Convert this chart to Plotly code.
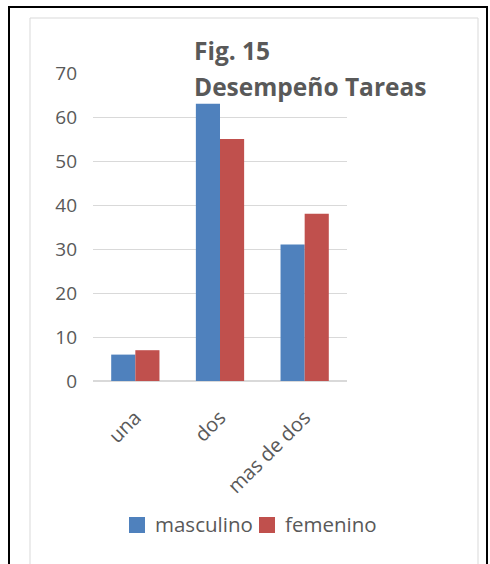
import plotly.graph_objects as go

categories = ["una", "dos", "mas de dos"]
series_names = ["masculino", "femenino"]
masculino = [6, 63, 31]
femenino = [7, 55, 38]
y_ticks = [0, 10, 20, 30, 40, 50, 60, 70]
colors = ["#4F81BD", "#C0504D"]

W, H = 490, 564
L, R, T, B = 93, 347, 73, 381  # plot area in px

def px(x):
    return (x - L) / (R - L)

def py(y):
    return (B - y) / (B - T)

FONT = "Open Sans"
GREY = "#595959"

fig = go.Figure()
for name, vals, col in zip(series_names, [masculino, femenino], colors):
    fig.add_trace(go.Bar(name=name, x=categories, y=vals, marker_color=col, marker_line_width=0))

fig.update_layout(
    width=W, height=H,
    margin=dict(l=L, r=W - R, t=T, b=H - B, pad=0, autoexpand=False),
    paper_bgcolor="white", plot_bgcolor="white",
    barmode="group", bargap=0.43, bargroupgap=0,
    font=dict(family=FONT, size=19, color=GREY),
    showlegend=False,
    xaxis=dict(tickangle=-45, showline=False, ticks="", showgrid=False, automargin=False,
               ticklabelstandoff=20, tickfont=dict(size=20, color=GREY)),
    yaxis=dict(range=[0, 70], tickvals=y_ticks, showgrid=True, gridcolor="#D9D9D9",
               gridwidth=1, zeroline=True, zerolinecolor="#D9D9D9", zerolinewidth=1.5,
               showline=False, automargin=False,
               ticks="", ticklabelstandoff=15, tickfont=dict(size=19, color=GREY)),
)

shapes = []
# inner light frame (bottom edge falls outside the picture)
shapes.append(dict(type="rect", xref="paper", yref="paper", x0=px(30), x1=px(478), y0=py(600), y1=py(18),
                   line=dict(color="#D9D9D9", width=1), fillcolor="rgba(0,0,0,0)", layer="below"))
# outer black frame (top, left, right)
for (x0, y0, x1, y1) in [(8, 7, 488, 7), (9, 7, 9, 600), (487, 7, 487, 600)]:
    shapes.append(dict(type="line", xref="paper", yref="paper", x0=px(x0), x1=px(x1), y0=py(y0), y1=py(y1),
                       line=dict(color="black", width=2)))

# legend drawn manually: squares + labels
legend_items = [(129, 153), (259, 283)]
for (sx, tx), name, col in zip(legend_items, series_names, colors):
    shapes.append(dict(type="rect", xref="paper", yref="paper", x0=px(sx), x1=px(sx + 16),
                       y0=py(533), y1=py(517), line=dict(width=0), fillcolor=col))
    fig.add_annotation(text=name, xref="paper", yref="paper", x=px(tx), y=py(524),
                       xanchor="left", yanchor="middle", showarrow=False,
                       font=dict(family=FONT, size=20.5, color=GREY))
fig.update_layout(shapes=shapes)

for txt, yy in [("Fig. 15", 50), ("Desempeño Tareas", 86)]:
    fig.add_annotation(text="<b>" + txt + "</b>", xref="paper", yref="paper", x=px(192), y=py(yy),
                       xanchor="left", yanchor="middle", showarrow=False,
                       font=dict(family=FONT, size=24.5, color=GREY))

fig.write_html("out.html", config={"displayModeBar": False},
               post_script="document.body.style.margin='0';")
